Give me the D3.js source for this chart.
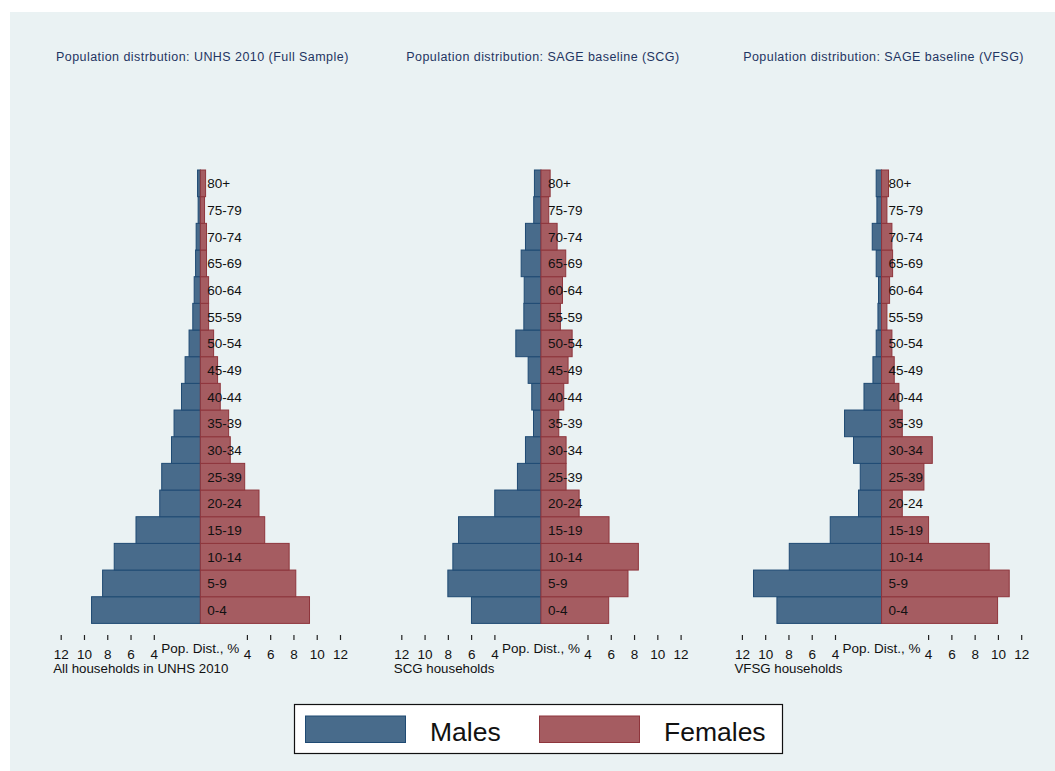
<!DOCTYPE html>
<html>
<head>
<meta charset="utf-8">
<script src="https://cdn.jsdelivr.net/npm/d3@7"></script>
<style>
  html, body { margin: 0; padding: 0; background: #ffffff; }
  svg { display: block; font-family: "Liberation Sans", Arial, sans-serif; }
</style>
</head>
<body>
<svg id="chart" width="1055" height="771"></svg>
<script>
// Age groups, bottom to top
const ages = ["0-4", "5-9", "10-14", "15-19", "20-24", "25-39", "30-34", "35-39",
              "40-44", "45-49", "50-54", "55-59", "60-64", "65-69", "70-74", "75-79", "80+"];

// Population shares (%) by age group
const unhsMale   = [9.35, 8.40, 7.40, 5.53, 3.49, 3.32, 2.48, 2.26, 1.62, 1.31, 0.97, 0.65, 0.53, 0.41, 0.36, 0.19, 0.24];
const unhsFemale = [9.38, 8.20, 7.63, 5.53, 5.04, 3.81, 2.57, 2.43, 1.71, 1.48, 1.14, 0.71, 0.71, 0.53, 0.53, 0.36, 0.45];

const scgMale    = [5.97, 8.00, 7.57, 7.08, 3.97, 2.02, 1.33, 0.64, 0.79, 1.10, 2.16, 1.47, 1.44, 1.70, 1.33, 0.62, 0.56];
const scgFemale  = [5.82, 7.48, 8.37, 5.85, 3.28, 2.16, 2.16, 1.53, 1.96, 2.33, 2.68, 1.67, 1.85, 2.13, 1.39, 0.67, 0.79];

const vfsgMale   = [8.99, 11.00, 7.93, 4.41, 1.98, 1.83, 2.41, 3.18, 1.51, 0.74, 0.46, 0.31, 0.26, 0.46, 0.80, 0.40, 0.46];
const vfsgFemale = [9.97, 10.97, 9.25, 4.04, 1.78, 3.64, 4.36, 1.78, 1.49, 1.09, 0.89, 0.46, 0.69, 0.95, 0.89, 0.46, 0.60];

// Panel titles and notes
const titles = ["Population distrbution: UNHS 2010 (Full Sample)",
                "Population distribution: SAGE baseline (SCG)",
                "Population distribution: SAGE baseline (VFSG)"];
const notes  = ["All households in UNHS 2010", "SCG households", "VFSG households"];

// Axis ticks (absolute values, shown on both sides)
const leftTicks  = [-12, -10, -8, -6, -4];
const rightTicks = [4, 6, 8, 10, 12];
const axisTitle = "Pop. Dist., %";
const legendLabels = ["Males", "Females"];

const panels = [
  { male: unhsMale, female: unhsFemale },
  { male: scgMale,  female: scgFemale },
  { male: vfsgMale, female: vfsgFemale }
];

const colors = {
  maleFill: "#486b8b", maleStroke: "#1f4a73",
  femaleFill: "#a55c61", femaleStroke: "#8e353c",
  bg: "#eaf2f3", title: "#1f3562", text: "#111111"
};

const svg = d3.select("#chart");

// graph region background
svg.append("rect").attr("x", 10).attr("y", 12).attr("width", 1045).attr("height", 759)
  .attr("fill", colors.bg);

const panelStep = 340.6;
const plotTop = 170, plotBottom = 623.4;

const y = d3.scaleBand().domain(ages.slice().reverse()).range([plotTop, plotBottom]).padding(0);

panels.forEach((p, i) => {
  const left = 60.7 + i * panelStep;
  const right = 340.0 + i * panelStep;
  const x = d3.scaleLinear().domain([-12, 12]).range([left, right]);
  const g = svg.append("g");

  // title
  g.append("text")
    .attr("x", x(0) + 2).attr("y", 61)
    .attr("text-anchor", "middle")
    .attr("font-size", 12.5)
    .attr("letter-spacing", "0.45px")
    .attr("fill", colors.title)
    .text(titles[i]);

  const rows = ages.map((a, k) => ({ age: a, m: p.male[k], f: p.female[k] }));

  // male bars (left)
  g.selectAll(".male").data(rows).join("rect")
    .attr("class", "male")
    .attr("x", d => x(-d.m))
    .attr("y", d => y(d.age))
    .attr("width", d => x(0) - x(-d.m))
    .attr("height", y.bandwidth())
    .attr("fill", colors.maleFill)
    .attr("stroke", colors.maleStroke)
    .attr("stroke-width", 1);

  // female bars (right)
  g.selectAll(".female").data(rows).join("rect")
    .attr("class", "female")
    .attr("x", x(0))
    .attr("y", d => y(d.age))
    .attr("width", d => x(d.f) - x(0))
    .attr("height", y.bandwidth())
    .attr("fill", colors.femaleFill)
    .attr("stroke", colors.femaleStroke)
    .attr("stroke-width", 1);

  // age labels
  g.selectAll(".age").data(rows).join("text")
    .attr("class", "age")
    .attr("x", x(0.6))
    .attr("y", d => y(d.age) + y.bandwidth() / 2)
    .attr("dy", "0.36em")
    .attr("font-size", 13.5)
    .attr("fill", colors.text)
    .text(d => d.age);

  // x axis: ticks on both sides, labels as absolute values
  const axis = d3.axisBottom(x)
    .tickValues(leftTicks.concat(rightTicks))
    .tickSize(5)
    .tickPadding(9)
    .tickFormat(d => Math.abs(d));
  const ax = g.append("g").attr("transform", `translate(0,${635})`).call(axis);
  ax.select(".domain").remove();
  ax.selectAll(".tick line").attr("stroke", "#222").attr("stroke-width", 1.2);
  ax.selectAll(".tick text")
    .attr("font-size", 13.5)
    .attr("font-family", "Liberation Sans, Arial, sans-serif")
    .attr("fill", colors.text);

  // axis title in the middle
  g.append("text")
    .attr("x", x(0)).attr("y", 653)
    .attr("text-anchor", "middle")
    .attr("font-size", 13.5)
    .attr("fill", colors.text)
    .text(axisTitle);

  // note below axis
  g.append("text")
    .attr("x", left - 7.5).attr("y", 673)
    .attr("font-size", 13.3)
    .attr("fill", colors.text)
    .text(notes[i]);
});

// legend
const lg = svg.append("g");
lg.append("rect").attr("x", 294.5).attr("y", 704.5).attr("width", 488).attr("height", 49)
  .attr("fill", "#ffffff").attr("stroke", "#111").attr("stroke-width", 1.2);
const legendItems = [
  { label: legendLabels[0], fill: colors.maleFill, stroke: colors.maleStroke, sx: 305.5, tx: 430 },
  { label: legendLabels[1], fill: colors.femaleFill, stroke: colors.femaleStroke, sx: 539.5, tx: 664 }
];
legendItems.forEach(it => {
  lg.append("rect").attr("x", it.sx).attr("y", 716).attr("width", 100).attr("height", 26.5)
    .attr("fill", it.fill).attr("stroke", it.stroke).attr("stroke-width", 1);
  lg.append("text").attr("x", it.tx).attr("y", 740.5)
    .attr("font-size", 26.5).attr("fill", colors.text).text(it.label);
});
</script>
</body>
</html>
